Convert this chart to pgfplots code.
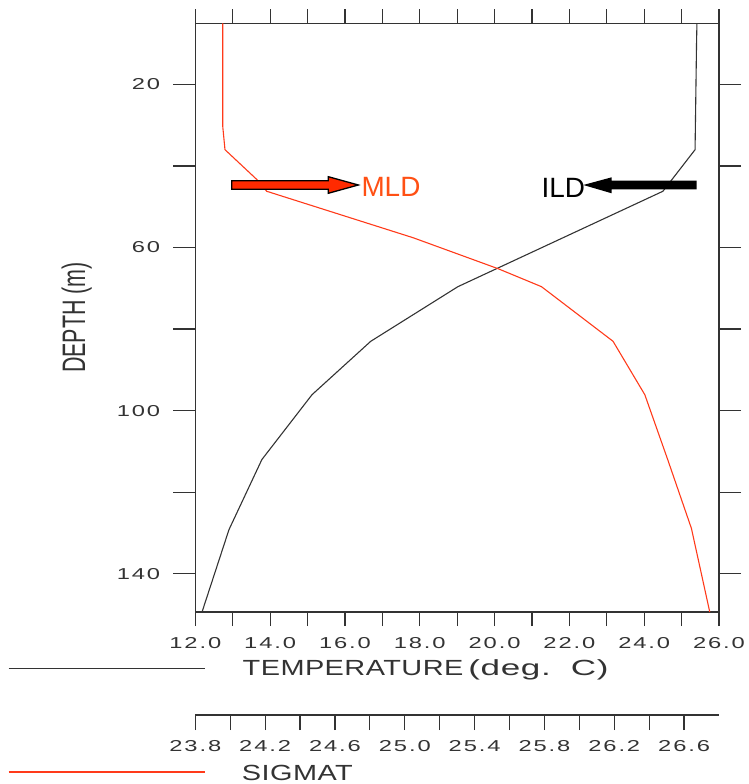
\documentclass[border=0pt]{standalone}
\usepackage{fontspec}
\setmainfont{Liberation Sans}
\newfontfamily\tickfont[FakeStretch=1.5,LetterSpace=12]{Liberation Sans}
\newfontfamily\titlefont[FakeStretch=1.32,LetterSpace=2]{Liberation Sans}
\newfontfamily\widefont[FakeStretch=1.6,LetterSpace=3]{Liberation Sans}
\newfontfamily\depthfont[FakeStretch=0.66]{Liberation Sans}
\usepackage{pgfplots}
\pgfplotsset{compat=1.18}
\definecolor{axgray}{HTML}{333333}
\definecolor{sigred}{HTML}{FF3A1A}
\definecolor{mldtext}{HTML}{FF5014}
\definecolor{arrowred}{HTML}{FF2A00}

\pgfplotstableread{
T d
25.41 5
25.40 9.6
25.36 36.0
24.50 46.2
19.02 69.6
16.69 83.0
15.12 96.1
13.78 112.0
12.90 129.2
12.18 149.4
}\temptable

\pgfplotstableread{
S d
23.957 5
23.957 30.2
23.970 36.0
24.152 43.3
24.209 46.2
25.048 57.6
25.535 65.2
25.783 69.6
26.193 83.0
26.375 96.1
26.506 112.0
26.642 128.9
26.747 149.4
}\sigtable

\pgfplotsset{
  frame/.style={
    at={(195.3pt,172pt)}, anchor=south west,
    scale only axis, width=523.7pt, height=588.7pt,
    ymin=5, ymax=149.4, y dir=reverse,
  },
  gftick/.style={
    tick align=outside,
    tick style={axgray, line width=1.2pt},
    axis line style={axgray, line width=1.4pt},
    ticklabel style={font=\tickfont\fontsize{15.8}{18}\selectfont, text=axgray, inner sep=0pt},
  },
}

\begin{document}
\begin{tikzpicture}[x=1pt,y=1pt]
\useasboundingbox (0,0) rectangle (749,784);

% main axis: temperature vs depth (x ticks)
\begin{axis}[frame, gftick,
  xmin=12, xmax=26,
  major tick length=14pt,
  xtick={12,13,14,15,16,17,18,19,20,21,22,23,24,25,26},
  xticklabels={12.0,,14.0,,16.0,,18.0,,20.0,,22.0,,24.0,,26.0},
  ytick=\empty,
  xticklabel style={anchor=north, yshift=-11pt},
]
\addplot[color=axgray, line width=1.1pt] table[x=T,y=d] {\temptable};
\end{axis}

% overlay axis for depth ticks, left side
\begin{axis}[frame, gftick,
  xmin=12, xmax=26,
  major tick length=22pt,
  xtick=\empty, ytick pos=left,
  ytick={20,40,60,80,100,120,140}, yticklabels={20,,60,,100,,140},
  yticklabel style={anchor=east, xshift=-13pt},
]
\addplot[draw=none] coordinates {(20,50)};
\end{axis}

% overlay axis for depth ticks, right side
\begin{axis}[frame, gftick,
  xmin=12, xmax=26,
  major tick length=22pt,
  xtick=\empty, ytick pos=right, yticklabel pos=right,
  ytick={20,40,60,80,100,120,140}, yticklabels={},
]
\addplot[draw=none] coordinates {(20,50)};
\end{axis}

% overlay axis for sigma-t curve
\begin{axis}[frame,
  xmin=23.8, xmax=26.8,
  hide axis,
]
\addplot[color=sigred, line width=1.1pt] table[x=S,y=d] {\sigtable};
\end{axis}

% sigma-t scale axis
\begin{axis}[gftick,
  at={(195.3pt,69pt)}, anchor=south west,
  scale only axis, width=523.7pt, height=10pt,
  xmin=23.8, xmax=26.8, ymin=0, ymax=1,
  axis x line*=bottom, axis y line=none,
  major tick length=15pt,
  xtick={23.8,24.0,24.2,24.4,24.6,24.8,25.0,25.2,25.4,25.6,25.8,26.0,26.2,26.4,26.6},
  xticklabels={23.8,,24.2,,24.6,,25.0,,25.4,,25.8,,26.2,,26.6},
  xticklabel style={anchor=north, yshift=-10pt},
]
\addplot[draw=none] coordinates {(24,0.5)};
\end{axis}

% axis titles
\node[rotate=90, text=axgray, font=\depthfont\fontsize{32.5}{34}\selectfont] at (76.7,466.5) {DEPTH (m)};
\node[anchor=base west, inner sep=0pt, text=axgray, font=\titlefont\fontsize{21.9}{24}\selectfont] at (242.5,108.3) {TEMPERATURE\hspace{5pt}{\widefont(deg.}\hspace{20pt}{\widefont C)}};
\node[anchor=base west, inner sep=0pt, text=axgray, font=\titlefont\fontsize{21.9}{24}\selectfont] at (241.7,4) {SIGMAT};
\draw[axgray, line width=1.2pt] (8.6,115.3) -- (205,115.3);
\draw[sigred, line width=1.2pt] (8.6,12) -- (205,12);

% MLD arrow and label
\draw[fill=arrowred, draw=black, line width=1.3pt, line join=miter]
  (231.7,603.3) -- (328.3,603.3) -- (328.3,607.3) -- (358.3,599) -- (328.3,590.7) -- (328.3,594.7) -- (231.7,594.7) -- cycle;
\node[anchor=base west, inner sep=0pt, text=mldtext, font=\fontsize{27.9}{30}\selectfont] at (361.3,587.3) {MLD};

% ILD arrow and label
\fill[black] (696.7,603.3) -- (611.7,603.3) -- (611.7,606.7) -- (583.3,599) -- (611.7,590.7) -- (611.7,594.7) -- (696.7,594.7) -- cycle;
\node[anchor=base east, inner sep=0pt, text=black, font=\fontsize{27.9}{30}\selectfont] at (585.3,586.7) {ILD};
\end{tikzpicture}
\end{document}
